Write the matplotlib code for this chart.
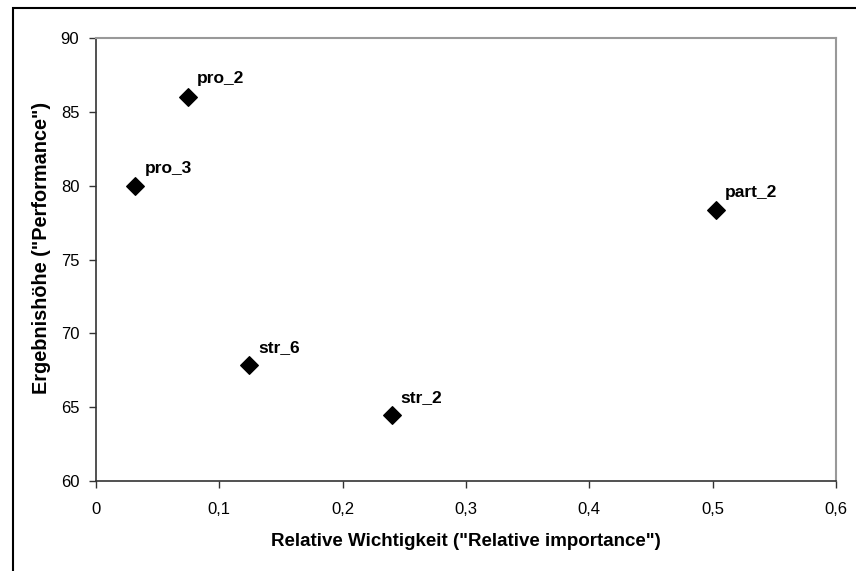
import matplotlib
matplotlib.use("Agg")
import matplotlib.pyplot as plt
from matplotlib.patches import Rectangle
from matplotlib.ticker import FuncFormatter

# Daten
namen = ["pro_2", "pro_3", "part_2", "str_6", "str_2"]
wichtigkeit = [0.0743, 0.0319, 0.5027, 0.1243, 0.2397]
performance = [86.03, 79.95, 78.35, 67.86, 64.48]

plt.rcParams['font.family'] = ['Liberation Sans', 'DejaVu Sans']

fig = plt.figure(figsize=(8.56, 5.71), dpi=100)
W, H = 856, 571
ax = fig.add_axes([96 / W, 1 - 481 / H, 740 / W, 443 / H])

# Rahmen um das ganze Diagramm (rechts/unten abgeschnitten)
fig.patches.append(Rectangle((13 / W, -0.1), 1.2, 1 - 8 / H + 0.1,
                             transform=fig.transFigure, fill=False,
                             edgecolor='black', linewidth=1.5))

ax.scatter(wichtigkeit, performance, marker='D', s=80, color='black', zorder=3)
for n, xv, yv in zip(namen, wichtigkeit, performance):
    ax.annotate(n, (xv, yv), xytext=(6.5, 9.5), textcoords='offset points',
                fontsize=12.5, fontweight='bold')

ax.set_xlim(0, 0.6)
ax.set_ylim(60, 90)
ax.set_xticks([0, 0.1, 0.2, 0.3, 0.4, 0.5, 0.6])
ax.set_yticks(range(60, 91, 5))
ax.xaxis.set_major_formatter(FuncFormatter(lambda v, p: ('%g' % round(v, 1)).replace('.', ',')))

for s in ['top', 'right']:
    ax.spines[s].set_color('#999999')
    ax.spines[s].set_linewidth(1.5)
for s in ['left', 'bottom']:
    ax.spines[s].set_color('#333333')
    ax.spines[s].set_linewidth(1.2)
ax.tick_params(direction='out', length=5, width=1, color='#333333', labelsize=12)
ax.tick_params(axis='x', pad=10)
ax.tick_params(axis='y', pad=7)

ax.set_xlabel('Relative Wichtigkeit ("Relative importance")', fontsize=13.5,
              fontweight='bold')
ax.set_ylabel('Ergebnishöhe ("Performance")', fontsize=14.3,
              fontweight='bold')
ax.xaxis.set_label_coords(0.5, 1 - (541 - 38) / 443, transform=ax.transAxes)
ax.yaxis.set_label_coords((42 - 96) / 740, (481 - 248) / 443, transform=ax.transAxes)
ax.xaxis.label.set_va('center')
ax.yaxis.label.set_va('center')

fig.savefig('out.png', dpi=100)
